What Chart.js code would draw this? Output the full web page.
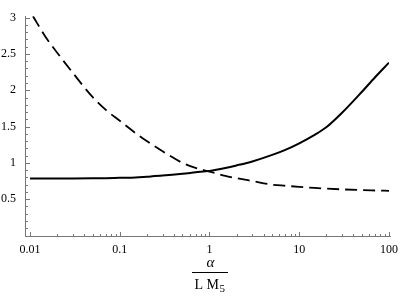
<!DOCTYPE html>
<html>
<head>
<meta charset="utf-8">
<script src="https://cdn.jsdelivr.net/npm/chart.js@4/dist/chart.umd.min.js"></script>
<style>
  html, body { margin: 0; padding: 0; background: #fff; }
  #wrap { width: 405px; height: 299px; }
</style>
</head>
<body>
<div id="wrap"><canvas id="grafico"></canvas></div>
<script>
// valores
const xSolida = [0.01, 0.015, 0.02, 0.03, 0.05, 0.07, 0.1, 0.15, 0.2, 0.3, 0.5, 0.7, 1, 1.5, 2, 3, 5, 7, 10, 15, 20, 30, 50, 70, 100]
const ySolida = [0.785, 0.785, 0.785, 0.786, 0.788, 0.79, 0.795, 0.80, 0.81, 0.825, 0.85, 0.87, 0.89, 0.93, 0.965, 1.02, 1.11, 1.18, 1.27, 1.39, 1.49, 1.69, 1.98, 2.18, 2.38]

const xTracejada = [0.0108, 0.015, 0.02, 0.03, 0.05, 0.07, 0.1, 0.15, 0.2, 0.3, 0.5, 0.7, 1, 1.5, 2, 3, 5, 7, 10, 15, 20, 30, 50, 70, 100]
const yTracejada = [3.02, 2.73, 2.52, 2.24, 1.905, 1.73, 1.58, 1.41, 1.30, 1.16, 1.0, 0.93, 0.88, 0.82, 0.79, 0.75, 0.70, 0.685, 0.67, 0.655, 0.645, 0.635, 0.625, 0.62, 0.615]

const ticksX = [0.01, 0.1, 1, 10, 100]
const labelsX = ['0.01', '0.1', '1', '10', '100']
const ticksY = [0.5, 1, 1.5, 2, 2.5, 3]

const fonteTicks = { family: '"Liberation Serif", serif', size: 12 }
const corEixo = '#777'

function pontos(xs, ys) {
    return xs.map((x, i) => ({ x: x, y: ys[i] }))
}

// eixos com marcas para dentro, estilo Mathematica
const eixosPlugin = {
    id: 'eixos',
    afterDraw(chart) {
        const ctx = chart.ctx
        const area = chart.chartArea
        const sx = chart.scales.x
        const sy = chart.scales.y
        const left = Math.round(area.left)
        const bottom = Math.round(area.bottom)
        ctx.save()
        ctx.fillStyle = corEixo
        ctx.fillRect(left, Math.round(sy.getPixelForValue(3.02)), 1, bottom - Math.round(sy.getPixelForValue(3.02)) + 1)
        ctx.fillRect(left, bottom, Math.round(area.right) + 2 - left, 1)

        // marcas y
        for (let k = 1; k <= 30; k++) {
            const py = Math.round(sy.getPixelForValue(k / 10))
            const len = (k % 5 === 0) ? 4 : 2
            ctx.fillRect(left, py, len + 1, 1)
        }
        // marcas x
        for (let d = -2; d <= 2; d++) {
            for (let m = 1; m <= 9; m++) {
                const v = m * Math.pow(10, d)
                if (v > 100) break
                const px = Math.round(sx.getPixelForValue(v))
                const len = (m === 1) ? 4 : 2
                ctx.fillRect(px, bottom - len, 1, len)
            }
        }

        // titulo do eixo x: alpha / (L M5)
        const cx = sx.getPixelForValue(1) + 1
        ctx.fillStyle = '#000'
        ctx.textAlign = 'center'
        ctx.textBaseline = 'alphabetic'
        ctx.font = 'italic 15px "Liberation Serif", serif'
        ctx.fillText('α', cx, 267)
        ctx.fillRect(Math.round(cx - 18), 272, 36, 1)
        ctx.textAlign = 'left'
        ctx.font = '14px "Liberation Serif", serif'
        const inicio = cx - 16
        ctx.fillText('L', inicio, 289)
        ctx.fillText('M', inicio + 12, 289)
        ctx.font = '11px "Liberation Serif", serif'
        ctx.fillText('5', inicio + 25, 292)
        ctx.restore()
    }
}

const data = {
    datasets: [{
            label: 'solida',
            data: pontos(xSolida, ySolida),
            borderColor: '#000',
            borderWidth: 2,
            pointRadius: 0,
            cubicInterpolationMode: 'monotone',
            fill: false
        },
        {
            label: 'tracejada',
            data: pontos(xTracejada, yTracejada),
            borderColor: '#000',
            borderWidth: 1.8,
            borderDash: [12, 6],
            pointRadius: 0,
            cubicInterpolationMode: 'monotone',
            fill: false
        }
    ]
}

const config = {
    type: 'line',
    data: data,
    options: {
        responsive: false,
        animation: false,
        layout: { padding: { top: 7, right: 15, left: 0, bottom: 0 } },
        plugins: {
            legend: { display: false },
            tooltip: { enabled: false }
        },
        scales: {
            x: {
                type: 'logarithmic',
                min: 0.0088,
                max: 100,
                border: { display: false },
                grid: { display: false, drawTicks: false },
                afterBuildTicks(scale) {
                    scale.ticks = ticksX.map(v => ({ value: v }))
                },
                afterFit(scale) {
                    scale.height = 63.5
                },
                ticks: {
                    font: fonteTicks,
                    color: '#000',
                    padding: 7,
                    maxRotation: 0,
                    autoSkip: false,
                    callback: (v) => {
                        const i = ticksX.indexOf(v)
                        return i >= 0 ? labelsX[i] : ''
                    }
                }
            },
            y: {
                min: 0,
                max: 3.02,
                border: { display: false },
                grid: { display: false, drawTicks: false },
                afterBuildTicks(scale) {
                    scale.ticks = ticksY.map(v => ({ value: v }))
                },
                afterFit(scale) {
                    scale.width = 25
                },
                ticks: {
                    font: fonteTicks,
                    color: '#000',
                    padding: 9,
                    callback: (v) => String(v)
                }
            }
        }
    },
    plugins: [eixosPlugin]
}

const canvas = document.getElementById('grafico')
canvas.width = 405
canvas.height = 299
canvas.style.width = '405px'
canvas.style.height = '299px'
new Chart(canvas, config)
</script>
</body>
</html>
